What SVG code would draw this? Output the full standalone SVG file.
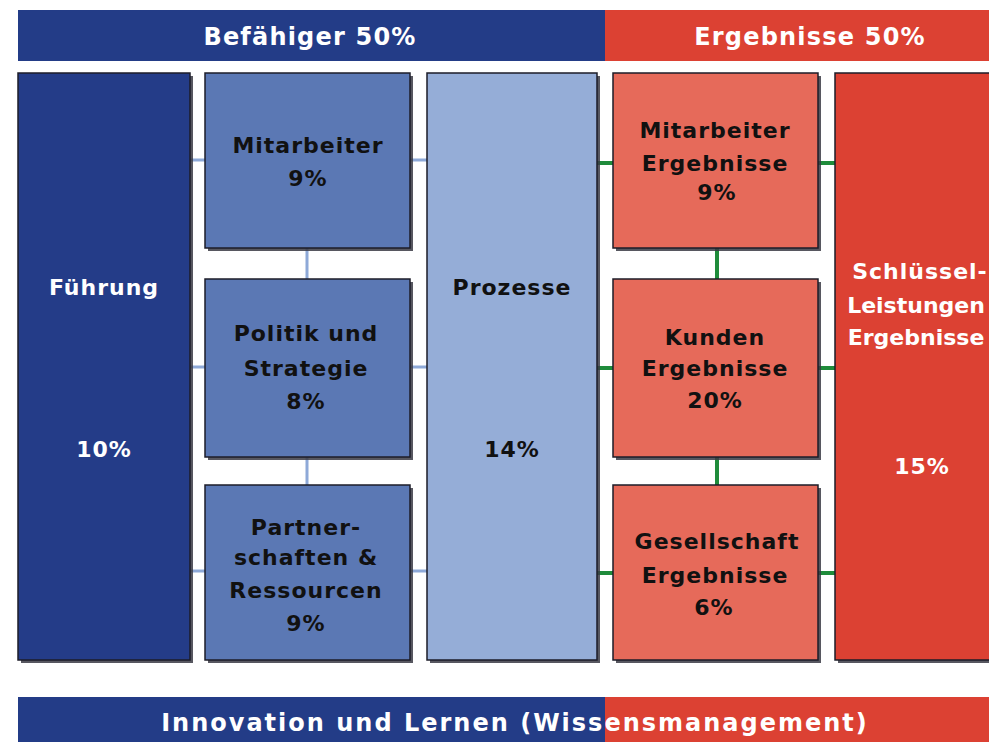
<svg xmlns="http://www.w3.org/2000/svg" width="989" height="742" viewBox="0 0 989 742">
<style>
text{font-family:"DejaVu Sans","Liberation Sans",sans-serif;font-weight:bold;text-anchor:middle}
.hd{font-size:24px;fill:#fff;letter-spacing:1.2px}
.bt{font-size:24px;fill:#fff;letter-spacing:2px}
.t{font-size:22px;letter-spacing:1px;fill:#111}
.w{fill:#fff}
.tight{letter-spacing:0px}
.box{stroke:#1c1c28;stroke-width:1.5}
.sh{fill:#3a3a44;opacity:0.85}
.cb{stroke:#8ea9d8;stroke-width:3;fill:none}
.cg{stroke:#1f8c3b;stroke-width:4;fill:none}
.d1{fill:#243c88}
.d2{fill:#5b78b4}
.d3{fill:#95add7}
.r1{fill:#e66a5a}
.r2{fill:#dc4133}
</style>
<rect x="0" y="0" width="989" height="742" fill="#fff"/>
<g id="header">
<rect x="18" y="10" width="587" height="51" fill="#233c87"/>
<rect x="605" y="10" width="384" height="51" fill="#dc4133"/>
<text class="hd" x="310" y="45">Befähiger 50%</text>
<text class="hd" x="810" y="45">Ergebnisse 50%</text>
</g>
<g id="connectors">
<path class="cb" d="M190 160H205M410 160H427M190 367H205M410 367H427M190 571H205M410 571H427M307 248V279M307 457V485"/>
<path class="cg" d="M597 163H613M818 163H835M597 368H613M818 368H835M597 573H613M818 573H835M717 248V279M717 457V485"/>
</g>
<g id="fuehrung">
<rect class="sh" x="21" y="76" width="172" height="587"/>
<rect class="box d1" x="18" y="73" width="172" height="587"/>
<text class="t w" x="104" y="295">Führung</text>
<text class="t w" x="104" y="457">10%</text>
</g>
<g id="mitarbeiter">
<rect class="sh" x="208" y="76" width="205" height="175"/>
<rect class="box d2" x="205" y="73" width="205" height="175"/>
<text class="t" x="308" y="153">Mitarbeiter</text>
<text class="t" x="308" y="186">9%</text>
</g>
<g id="politik">
<rect class="sh" x="208" y="282" width="205" height="178"/>
<rect class="box d2" x="205" y="279" width="205" height="178"/>
<text class="t" x="306" y="341">Politik und</text>
<text class="t" x="306" y="376">Strategie</text>
<text class="t" x="306" y="409">8%</text>
</g>
<g id="partner">
<rect class="sh" x="208" y="488" width="205" height="175"/>
<rect class="box d2" x="205" y="485" width="205" height="175"/>
<text class="t" x="306" y="535">Partner-</text>
<text class="t" x="306" y="565">schaften &amp;</text>
<text class="t" x="306" y="598">Ressourcen</text>
<text class="t" x="306" y="631">9%</text>
</g>
<g id="prozesse">
<rect class="sh" x="430" y="76" width="170" height="587"/>
<rect class="box d3" x="427" y="73" width="170" height="587"/>
<text class="t" x="512" y="295">Prozesse</text>
<text class="t" x="512" y="457">14%</text>
</g>
<g id="mitarbeiter-ergebnisse">
<rect class="sh" x="616" y="76" width="205" height="175"/>
<rect class="box r1" x="613" y="73" width="205" height="175"/>
<text class="t" x="715" y="138">Mitarbeiter</text>
<text class="t" x="715" y="171">Ergebnisse</text>
<text class="t" x="717" y="200">9%</text>
</g>
<g id="kunden-ergebnisse">
<rect class="sh" x="616" y="282" width="205" height="178"/>
<rect class="box r1" x="613" y="279" width="205" height="178"/>
<text class="t" x="715" y="345">Kunden</text>
<text class="t" x="715" y="376">Ergebnisse</text>
<text class="t" x="715" y="408">20%</text>
</g>
<g id="gesellschaft-ergebnisse">
<rect class="sh" x="616" y="488" width="205" height="175"/>
<rect class="box r1" x="613" y="485" width="205" height="175"/>
<text class="t" x="717" y="549">Gesellschaft</text>
<text class="t" x="715" y="583">Ergebnisse</text>
<text class="t" x="714" y="615">6%</text>
</g>
<g id="schluessel">
<rect class="sh" x="838" y="76" width="180" height="587"/>
<rect class="box r2" x="835" y="73" width="180" height="587"/>
<text class="t w" x="920" y="279">Schlüssel-</text>
<text class="t w tight" x="916" y="313">Leistungen</text>
<text class="t w tight" x="916" y="345">Ergebnisse</text>
<text class="t w" x="922" y="474">15%</text>
</g>
<g id="footer">
<rect x="18" y="697" width="587" height="45" fill="#233c87"/>
<rect x="605" y="697" width="384" height="45" fill="#dc4133"/>
<text class="bt" x="515" y="731">Innovation und Lernen (Wissensmanagement)</text>
</g>
</svg>
